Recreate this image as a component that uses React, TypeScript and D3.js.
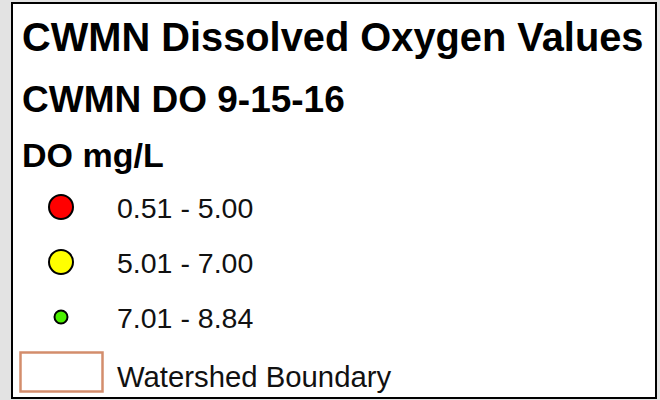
import React, { useEffect, useRef } from 'react';
import * as d3 from 'd3';

// legend content
const titleLines = ['CWMN Dissolved Oxygen Values', 'CWMN DO 9-15-16', 'DO mg/L'];
const classLabels = ['0.51 - 5.00', '5.01 - 7.00', '7.01 - 8.84'];
const classColors = ['#ff0000', '#ffff00', '#4cf000'];
const classSizes = [12, 12, 6.5];
const boundaryLabel = 'Watershed Boundary';
const boundaryColor = '#d38d6c';

const W = 660;
const H = 400;

const App = () => {
  const svgRef = useRef<SVGSVGElement | null>(null);

  useEffect(() => {
    const svg = d3.select(svgRef.current);
    svg.selectAll('*').remove();

    // map background peeking out around the legend frame
    svg.append('rect')
      .attr('width', W)
      .attr('height', H)
      .attr('fill', '#e3e3e3');

    // legend frame
    svg.append('rect')
      .attr('x', 12)
      .attr('y', 3)
      .attr('width', 644)
      .attr('height', 395)
      .attr('fill', '#ffffff')
      .attr('stroke', '#000')
      .attr('stroke-width', 2);

    // title block
    const titleY = [51, 112, 167];
    const titleSize = [39.8, 37, 34];
    titleLines.forEach((t, i) => {
      svg.append('text')
        .attr('x', 22)
        .attr('y', titleY[i])
        .attr('font-family', '"Liberation Sans", Arial, sans-serif')
        .attr('font-weight', 'bold')
        .attr('font-size', titleSize[i])
        .attr('fill', '#000')
        .text(t);
    });

    // rows: the three DO classes plus the boundary swatch
    const rows = [...classLabels, boundaryLabel];
    const y = d3.scalePoint<string>().domain(rows).range([207, 372]);
    const color = d3.scaleOrdinal<string, string>().domain(classLabels).range(classColors);
    const size = d3.scaleOrdinal<string, number>().domain(classLabels).range(classSizes);

    svg.selectAll('circle.cls')
      .data(classLabels)
      .enter()
      .append('circle')
      .attr('class', 'cls')
      .attr('cx', 61)
      .attr('cy', d => y(d) as number)
      .attr('r', d => size(d))
      .attr('fill', d => color(d))
      .attr('stroke', '#000')
      .attr('stroke-width', 2);

    svg.append('rect')
      .attr('x', 20.5)
      .attr('y', (y(boundaryLabel) as number) - 19.5)
      .attr('width', 82)
      .attr('height', 39)
      .attr('fill', 'none')
      .attr('stroke', boundaryColor)
      .attr('stroke-width', 2.5);

    svg.selectAll('text.lbl')
      .data(rows)
      .enter()
      .append('text')
      .attr('class', 'lbl')
      .attr('x', 117)
      .attr('y', d => (y(d) as number) + (d === boundaryLabel ? 15 : 11))
      .attr('font-family', '"Liberation Sans", Arial, sans-serif')
      .attr('font-size', d => (d === boundaryLabel ? 29.3 : 28.5))
      .attr('fill', '#111')
      .text(d => d);
  }, []);

  return (
    <svg
      ref={svgRef}
      width={W}
      height={H}
      style={{ position: 'absolute', left: 0, top: 0 }}
    />
  );
};

export default App;
